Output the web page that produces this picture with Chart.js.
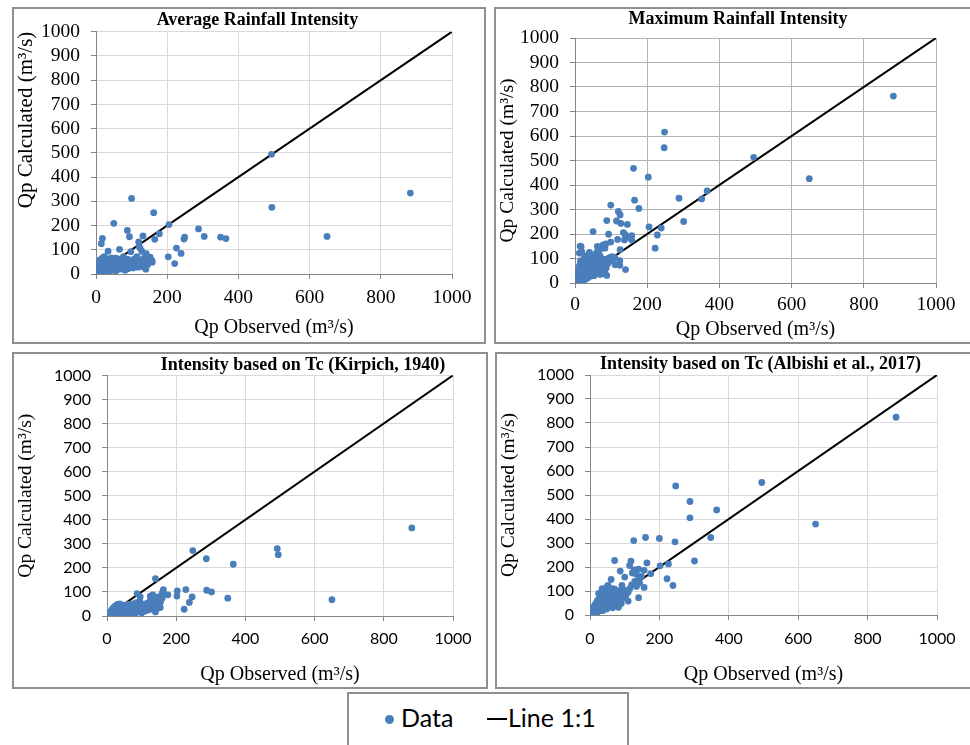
<!DOCTYPE html>
<html>
<head>
<meta charset="utf-8">
<script src="https://cdn.jsdelivr.net/npm/chart.js@4.4.1/dist/chart.umd.min.js"></script>
<style>
    body { margin: 0; background: #fff; width: 970px; height: 745px; position: relative; overflow: hidden; }
    .box { position: absolute; border: 2px solid #8f8f8f; box-sizing: border-box; }
    canvas { position: absolute; }
    #legend { position: absolute; left: 347px; top: 692px; width: 282px; height: 70px; border: 2px solid #8f8f8f; box-sizing: border-box;
              font-family: Lato, 'Open Sans', sans-serif; font-size: 25px; color: #000; }
    #legend span { position: absolute; }
    .dot { width: 9px; height: 9px; border-radius: 50%; background: #4a7ebb; left: 36px; top: 21px; }
    .dash { width: 20px; height: 2px; background: #000; left: 138px; top: 24px; }
</style>
</head>
<body>
<div class="box" style="left:12px;top:7px;width:474px;height:337px"></div>
<div class="box" style="left:494px;top:7px;width:480px;height:337px"></div>
<div class="box" style="left:12px;top:352px;width:476px;height:337px"></div>
<div class="box" style="left:495px;top:352px;width:480px;height:337px"></div>

<canvas id="avgChart"></canvas>
<canvas id="maxChart"></canvas>
<canvas id="kirpichChart"></canvas>
<canvas id="albishiChart"></canvas>

<div id="legend">
    <span class="dot"></span><span style="left:52px;top:8px">Data</span>
    <span class="dash"></span><span style="left:159px;top:8px">Line 1:1</span>
</div>

<script>
    // axis range shared by all four panels
    const axisMin = 0;
    const axisMax = 1000;
    const xStep = 200;
    const yStep = 100;

    const panelTitles = [
        'Average Rainfall Intensity',
        'Maximum Rainfall Intensity',
        'Intensity based on Tc (Kirpich, 1940)',
        'Intensity based on Tc (Albishi et al., 2017)'
    ];
    const xTitle = 'Qp Observed (m³/s)';
    const yTitle = 'Qp Calculated (m³/s)';

    const lineOneToOne = [[0, 0], [1000, 1000]];
    const originMarker = [[0, 0]];

    // [Qp observed, Qp calculated]
    const avgIntensity = [
        [883, 334], [649, 155], [494, 275], [493, 494], [365, 146], [350, 152], [304, 155], [288, 186],
        [249, 152], [247, 144], [239, 85], [226, 107], [221, 43], [205, 204], [203, 71], [178, 166],
        [165, 143], [162, 253], [158, 49], [157, 56], [152, 70], [141, 84], [140, 20], [134, 64],
        [132, 157], [129, 93], [124, 106], [121, 115], [120, 132], [115, 72], [105, 53], [100, 312],
        [98, 92], [94, 154], [88, 180], [87, 29], [82, 15], [77, 72], [66, 102], [50, 209], [34, 94],
        [21, 70], [18, 147], [15, 125],
        [1, 2], [3, 6], [4, 12], [5, 20], [6, 3], [7, 28], [8, 9], [9, 40], [10, 16], [11, 58], [12, 5],
        [13, 33], [14, 22], [15, 48], [16, 10], [17, 64], [18, 28], [19, 38], [20, 14], [22, 52], [23, 24],
        [24, 72], [25, 8], [26, 42], [28, 30], [29, 18], [30, 60], [32, 36], [33, 12], [35, 46], [36, 25],
        [38, 55], [40, 20], [41, 34], [43, 66], [44, 15], [46, 40], [48, 28], [50, 52], [52, 22], [54, 36],
        [56, 12], [58, 45], [60, 30], [62, 62], [64, 20], [66, 40], [68, 55], [70, 28], [72, 48], [75, 35],
        [78, 60], [80, 25], [83, 44], [85, 58], [88, 38], [90, 22], [93, 50], [96, 30], [100, 42], [104, 25],
        [108, 62], [110, 35], [113, 48], [118, 28], [122, 40], [127, 55], [131, 30], [137, 45], [145, 38],
        [150, 55], [28, 48], [45, 55], [60, 45], [75, 20], [90, 60], [20, 26], [38, 8], [55, 65]
    ];

    const maxIntensity = [
        [882, 763], [649, 426], [495, 513], [366, 376], [351, 343], [301, 251], [288, 346], [248, 616],
        [247, 552], [239, 224], [228, 196], [222, 142], [205, 229], [203, 432], [177, 304], [165, 338],
        [162, 468], [157, 193], [157, 176], [148, 187], [145, 239], [140, 55], [139, 197], [137, 176],
        [134, 206], [127, 243], [125, 278], [125, 136], [124, 91], [124, 72], [120, 292], [118, 178],
        [115, 253], [111, 75], [99, 318], [99, 167], [93, 199], [88, 255], [88, 31], [86, 160], [83, 38],
        [83, 142], [78, 156], [68, 135], [66, 142], [62, 149], [50, 210], [19, 127], [17, 148], [14, 150],
        [12, 122],
        [2, 3], [4, 10], [5, 22], [6, 35], [8, 15], [9, 50], [10, 6], [11, 28], [12, 70], [13, 40], [14, 18],
        [15, 90], [16, 55], [18, 30], [19, 10], [20, 45], [22, 62], [23, 22], [24, 80], [26, 35], [27, 52],
        [28, 14], [30, 68], [31, 28], [33, 42], [34, 88], [35, 20], [37, 58], [38, 36], [40, 75], [41, 48],
        [43, 28], [45, 62], [46, 100], [48, 40], [50, 55], [52, 78], [53, 30], [55, 48], [57, 66], [58, 92],
        [60, 40], [62, 58], [64, 80], [66, 50], [68, 70], [70, 35], [72, 88], [74, 60], [76, 78], [78, 50],
        [80, 96], [82, 70], [84, 85], [86, 60], [88, 92], [90, 78], [92, 100], [95, 88], [97, 105], [100, 95],
        [103, 108], [106, 100], [110, 104], [30, 110], [40, 125], [25, 100], [55, 115], [60, 125], [70, 110]
    ];

    const kirpichIntensity = [
        [881, 366], [650, 68], [495, 255], [492, 280], [365, 215], [349, 74], [302, 100], [288, 107],
        [287, 238], [248, 272], [246, 79], [238, 56], [228, 110], [223, 28], [203, 104], [202, 83],
        [176, 88], [163, 110], [160, 97], [158, 89], [160, 75], [154, 35], [140, 155], [140, 17],
        [137, 62], [132, 88], [125, 31], [96, 79], [87, 93], [125, 83], [135, 80], [145, 78],
        [1, 2], [3, 5], [5, 10], [6, 3], [8, 14], [10, 7], [12, 20], [14, 4], [15, 28], [17, 12], [19, 35],
        [20, 8], [22, 18], [24, 42], [26, 10], [28, 25], [30, 48], [31, 6], [33, 16], [35, 32], [37, 50],
        [39, 12], [41, 24], [43, 40], [45, 8], [47, 30], [49, 18], [51, 45], [53, 26], [55, 12], [57, 38],
        [59, 22], [61, 48], [63, 15], [65, 30], [67, 42], [69, 20], [71, 8], [73, 35], [75, 50], [77, 24],
        [79, 14], [81, 40], [83, 28], [85, 55], [87, 18], [89, 45], [91, 32], [93, 22], [95, 60], [98, 38],
        [100, 50], [103, 28], [106, 42], [109, 20], [112, 35], [115, 52], [118, 25], [121, 44], [124, 62],
        [127, 48], [130, 40], [134, 70], [138, 52], [142, 66], [146, 44], [150, 72], [155, 60],
        [18, 22], [27, 38], [36, 44], [44, 20], [52, 36], [60, 40], [68, 30], [76, 44], [84, 36], [92, 48],
        [102, 40], [110, 30], [120, 35], [128, 28], [136, 40], [144, 30], [152, 45], [62, 6], [80, 5], [100, 12]
    ];

    const albishiIntensity = [
        [882, 824], [650, 379], [495, 552], [365, 438], [348, 323], [301, 225], [288, 473], [288, 405],
        [247, 538], [245, 305], [239, 123], [226, 213], [222, 151], [202, 205], [200, 319], [175, 172],
        [164, 217], [160, 323], [156, 186], [156, 115], [148, 161], [143, 133], [140, 191], [140, 72],
        [139, 147], [134, 119], [133, 171], [129, 140], [127, 188], [126, 310], [122, 175], [120, 125],
        [118, 224], [114, 206], [110, 58], [100, 158], [92, 123], [87, 183], [82, 32], [71, 227], [71, 108],
        [61, 148], [52, 123],
        [1, 2], [2, 8], [4, 4], [5, 15], [6, 10], [8, 22], [9, 6], [10, 30], [12, 16], [13, 40], [14, 10],
        [15, 25], [17, 48], [18, 18], [20, 35], [21, 60], [22, 12], [24, 28], [25, 50], [27, 70], [28, 20],
        [30, 42], [31, 85], [33, 30], [34, 58], [36, 18], [37, 75], [39, 45], [40, 95], [42, 32], [43, 62],
        [45, 100], [46, 50], [48, 25], [49, 80], [51, 42], [52, 68], [54, 90], [55, 35], [57, 58], [58, 105],
        [60, 48], [62, 75], [63, 95], [65, 30], [67, 62], [68, 85], [70, 45], [72, 100], [74, 70], [76, 55],
        [78, 90], [80, 40], [82, 78], [84, 100], [86, 62], [88, 95], [90, 48], [93, 85], [95, 70], [97, 105],
        [100, 90], [103, 80], [106, 100], [110, 95], [115, 110], [35, 110], [50, 120], [65, 110], [25, 90],
        [45, 75], [81, 98], [91, 84], [100, 92]
    ];

    const SERIF = "'Liberation Serif', 'Times New Roman', serif";
    const SANS = "Lato, 'Open Sans', sans-serif";
    const AXIS_COLOR = '#868686';
    const TICK_LEN = 5;

    // page geometry: canvas box and plot area in page pixels
    const panels = [
        { id: 'avgChart', points: avgIntensity, origin: true, title: panelTitles[0],
          canvas: [14, 9, 487, 333], plot: [96, 31, 452, 274], titleY: 19, yTitleX: 25, xTitleY: 328, xTickY: 298,
          tickFont: { family: SERIF, size: 19.5 }, grid: '#d9d9d9', yTitleSize: 21, yTitleAlign: 'end' },
        { id: 'maxChart', points: maxIntensity, origin: true, title: panelTitles[1],
          canvas: [496, 9, 484, 333], plot: [575, 38, 936, 283], titleY: 19, yTitleX: 508, xTitleY: 332, xTickY: 305,
          tickFont: { family: SERIF, size: 19.5 }, grid: '#b4b4b4', yTitleSize: 19.5, yTitleAlign: 'center' },
        { id: 'kirpichChart', points: kirpichIntensity, origin: false, title: panelTitles[2],
          canvas: [14, 354, 578, 333], plot: [107, 375, 453, 616], titleY: 365, yTitleX: 25, xTitleY: 677, xTickY: 639,
          tickFont: { family: SANS, size: 16 }, grid: '#d9d9d9', yTitleSize: 19.5, yTitleAlign: 'center' },
        { id: 'albishiChart', points: albishiIntensity, origin: false, title: panelTitles[3],
          canvas: [497, 354, 527, 333], plot: [590, 375, 937, 615], titleY: 364, yTitleX: 508, xTitleY: 677, xTickY: 639,
          tickFont: { family: SANS, size: 16 }, grid: '#d9d9d9', yTitleSize: 19.5, yTitleAlign: 'center' }
    ];

    function toXY(pairs) {
        return pairs.map(p => ({ x: p[0], y: p[1] }));
    }

    function createPanel(p) {
        const [cl, ct, cw, ch] = p.canvas;
        const [pl, pt, pr, pb] = p.plot;
        const canvas = document.getElementById(p.id);
        canvas.width = cw;
        canvas.height = ch;
        canvas.style.left = cl + 'px';
        canvas.style.top = ct + 'px';

        const titleSize = 18, titleLH = 1.15;
        const titleH = titleSize * titleLH;
        const titleTop = Math.max(0, p.titleY - ct - titleH / 2);
        const titleBottom = Math.max(0, pt - ct - titleTop - titleH);
        const xTitleSize = 20;
        const tickLH = p.tickFont.size * 1.2;

        const datasets = [{
            label: 'Data',
            data: toXY(p.points),
            backgroundColor: '#4a7ebb',
            borderWidth: 0,
            pointRadius: 3.4,
            pointHoverRadius: 3.4
        }];
        if (p.origin) {
            datasets.push({
                label: 'origin',
                data: toXY(originMarker),
                pointStyle: 'triangle',
                backgroundColor: '#9bbb59',
                borderWidth: 0,
                pointRadius: 3
            });
        }
        datasets.push({
            label: 'Line 1:1',
            data: toXY(lineOneToOne),
            showLine: true,
            borderColor: '#000',
            borderWidth: 2,
            pointRadius: 0,
            fill: false
        });

        new Chart(canvas.getContext('2d'), {
            type: 'scatter',
            data: { datasets: datasets },
            options: {
                responsive: false,
                animation: false,
                events: [],
                layout: { padding: 0 },
                plugins: {
                    legend: { display: false },
                    tooltip: { enabled: false },
                    title: {
                        display: true,
                        text: p.title,
                        color: '#000',
                        font: { family: SERIF, size: titleSize, weight: 'bold', lineHeight: titleLH },
                        padding: { top: titleTop, bottom: titleBottom }
                    }
                },
                scales: {
                    x: {
                        type: 'linear',
                        min: axisMin,
                        max: axisMax,
                        ticks: {
                            stepSize: xStep,
                            color: '#000',
                            font: p.tickFont,
                            maxRotation: 0,
                            autoSkip: false,
                            padding: Math.max(0, p.xTickY - pb - TICK_LEN - tickLH / 2),
                            callback: v => String(v)
                        },
                        grid: { color: p.grid, tickLength: TICK_LEN, tickColor: AXIS_COLOR },
                        border: { color: AXIS_COLOR, width: 1 },
                        title: {
                            display: true,
                            text: xTitle,
                            color: '#000',
                            font: { family: SERIF, size: xTitleSize, lineHeight: 1.2 },
                            padding: { top: 0, bottom: Math.max(0, ct + ch - p.xTitleY - xTitleSize * 0.6) }
                        },
                        afterFit: s => { s.height = ct + ch - pb; }
                    },
                    y: {
                        type: 'linear',
                        min: axisMin,
                        max: axisMax,
                        ticks: {
                            stepSize: yStep,
                            color: '#000',
                            font: p.tickFont,
                            autoSkip: false,
                            padding: 11,
                            callback: v => String(v)
                        },
                        grid: { color: p.grid, tickLength: TICK_LEN, tickColor: AXIS_COLOR },
                        border: { color: AXIS_COLOR, width: 1 },
                        title: {
                            display: true,
                            text: yTitle,
                            align: p.yTitleAlign,
                            color: '#000',
                            font: { family: SERIF, size: p.yTitleSize, lineHeight: 1.2 },
                            padding: { top: Math.max(0, p.yTitleX - cl - p.yTitleSize * 0.6), bottom: 0 }
                        },
                        afterFit: s => { s.width = pl - cl; }
                    },
                    // empty right-hand axis that only reserves room so the plot sits where the reference has it
                    spacer: {
                        type: 'linear',
                        position: 'right',
                        display: true,
                        grid: { display: false, drawTicks: false },
                        border: { display: false },
                        ticks: { display: false },
                        afterFit: s => { s.width = cl + cw - pr; }
                    }
                }
            }
        });
    }

    window.onload = () => panels.forEach(createPanel);
</script>
</body>
</html>
